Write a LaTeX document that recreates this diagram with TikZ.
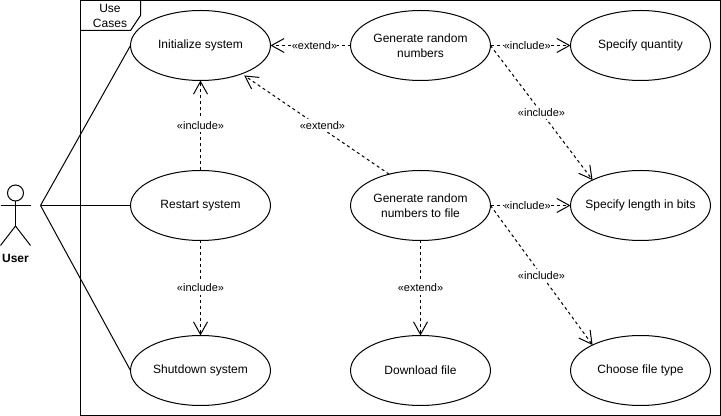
\documentclass[tikz,border=0pt]{standalone}
\usepackage{fontspec}
\setmainfont{Liberation Sans}
\usetikzlibrary{arrows.meta,shapes.geometric}
\begin{document}
\begin{tikzpicture}
    [x=0.75pt,y=-0.75pt,line width=0.75pt,
    usecase/.style = {ellipse,draw,align=center,font=\fontsize{9}{11.25}\selectfont,
                minimum width=105pt,minimum height=52.5pt,inner xsep=-20pt,inner ysep=0pt,outer sep=0pt},
    rel/.style = {dash pattern=on 2.25pt off 2.25pt,-{Straight Barb[length=9.5pt,width=10.5pt]}},
    lbl/.style = {fill=white,inner xsep=0pt,inner ysep=2pt,font=\fontsize{8.25}{10}\selectfont}]
    \useasboundingbox (0,0) rectangle (721,416);
    \draw (80.5,0.5) rectangle (720.5,415.5);
    \draw (80.5,30.5) -- (130.5,30.5) -- (140.5,15.5) -- (140.5,0.5);
    \node[align=center,inner sep=0pt,font=\fontsize{9}{11.25}\selectfont] (frametitle) at (110,15.5) {Use\\Cases};
    \draw (15.5,193) circle (8);
    \draw (15.5,201) -- (15.5,226);
    \draw (0.5,205.5) -- (30.5,205.5);
    \draw (0.5,245.5) -- (15.5,226) -- (30.5,245.5);
    \node[font=\bfseries\fontsize{9}{11}\selectfont,inner sep=0pt] (username) at (15.5,258.5) {User};
    \coordinate (user) at (40.5,205.5);
    \node[usecase] (init) at (200.5,45.5) {Initialize system};
    \node[usecase] (restart) at (200.5,205.5) {Restart system};
    \node[usecase] (shutdown) at (200.5,370.5) {Shutdown system};
    \node[usecase] (gennum) at (420.5,45.5) {Generate random\\numbers};
    \node[usecase] (genfile) at (420.5,205.5) {Generate random\\numbers to file};
    \node[usecase] (download) at (420.5,370.5) {Download file};
    \node[usecase] (quantity) at (640.5,45.5) {Specify quantity};
    \node[usecase] (length) at (640.5,205.5) {Specify length in bits};
    \node[usecase] (filetype) at (640.5,370.5) {Choose file type};
    \draw (user) -- (init.west);
    \draw (user) -- (restart.west);
    \draw (user) -- (shutdown.west);
    \draw[rel] (restart) -- node[lbl] (l1) {«include»} (init);
    \draw[rel] (restart) -- node[lbl] (l2) {«include»} (shutdown);
    \draw[rel] (gennum) -- node[lbl,pos=0.45] (l3) {«extend»} (init);
    \draw[rel] (genfile.135) -- node[lbl,pos=0.46,yshift=2.6pt] (l4) {«extend»} ([shift={(3,1.5)}]init.-35);
    \draw[rel] (genfile) -- node[lbl] (l5) {«extend»} (download);
    \draw[rel] (gennum) -- node[lbl,pos=0.46] (l6) {«include»} (quantity);
    \draw[rel] (genfile) -- node[lbl,pos=0.46] (l7) {«include»} (length);
    \draw[rel] (gennum.east) -- node[lbl] (l8) {«include»} (length.152);
    \draw[rel] (genfile.east) -- node[lbl] (l9) {«include»} (filetype.152);
\end{tikzpicture}
\end{document}
